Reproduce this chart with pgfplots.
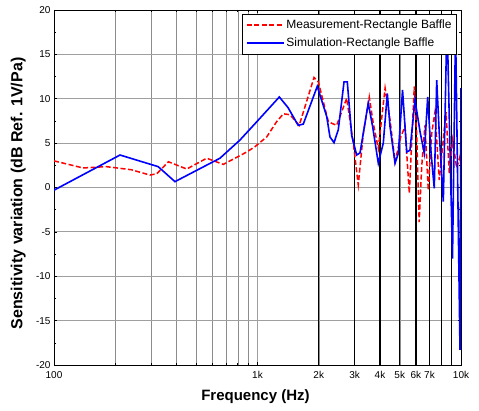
\documentclass[border=0pt]{standalone}
\usepackage{fontspec}
\setmainfont{Liberation Sans}
\usepackage{pgfplots}
\pgfplotsset{compat=1.18}

\begin{document}
\begin{tikzpicture}
\begin{axis}[
  scale only axis, width=407pt, height=355pt,
  xmode=log, xmin=100, xmax=10000, ymin=-20, ymax=20,
  xtick={100,1000,10000}, xticklabels={100,1k,10k},
  minor xtick={200,300,400,500,600,700,800,900,2000,3000,4000,5000,6000,7000,8000,9000},
  extra x ticks={2000,3000,4000,5000,6000,7000,8000,9000},
  extra x tick labels={2k,3k,4k,5k,6k,7k,{},{}},
  extra x tick style={grid=major, major grid style={black, line width=1.3pt}},
  ytick={-20,-15,...,20}, minor y tick num=1,
  tick align=inside, major tick length=3pt, minor tick length=2pt,
  xmajorgrids, xminorgrids, ymajorgrids,
  major grid style={gray!75, line width=0.8pt},
  minor grid style={gray!90, line width=0.4pt},
  axis line style={line width=0.9pt},
  tick style={black, line width=0.6pt},
  ticklabel style={font=\fontsize{10}{12}\selectfont},
  xticklabel style={yshift=-3pt},
  /pgf/number format/assume math mode=true,
  xlabel={Frequency (Hz)},
  ylabel={Sensitivity variation (dB Ref. 1V/Pa)},
  every axis x label/.style={at={(axis description cs:0.495,-0.09)}, anchor=center,
    font=\fontsize{15}{17}\selectfont\bfseries},
  every axis y label/.style={at={(axis description cs:-0.088,0.483)}, anchor=center, rotate=90,
    font=\fontsize{16}{18}\selectfont\bfseries},
  legend style={at={(0.99,0.99)}, anchor=north east, draw=black, line width=0.8pt,
    fill=white, font=\fontsize{12}{14}\selectfont, row sep=4pt,
    inner xsep=3pt, inner ysep=4pt, cells={anchor=west}},
  legend image code/.code={\draw[#1] (0cm,0cm) -- (1.3cm,0cm);},
]
\addplot[red, line width=1.5pt, dash pattern=on 5pt off 2.5pt] coordinates {
(100,3.0)(139,2.2)(181,2.35)(240,2.0)(296,1.4)(320,1.55)(365,2.9)(449,2.08)
(563,3.3)(679,2.6)(885,4.0)(972,4.6)(1110,5.7)(1240,7.4)(1340,8.3)(1445,8.2)
(1603,7.0)(1896,12.4)(1990,11.9)(2230,7.4)(2449,7.0)(2743,10.05)(2956,5.0)
(3127,0.3)(3311,6.1)(3542,10.2)(3707,7.2)(3924,4.4)(4236,11.2)(4480,7.6)
(4741,2.9)(5055,5.7)(5307,6.85)(5571,-0.65)(5895,11.4)(6053,6.1)(6230,-3.9)
(6410,2.35)(6650,7.0)(6907,-0.3)(7178,6.1)(7450,8.5)(7820,0.85)(8440,8.5)
(8760,1.6)(9100,5.35)(9520,2.2)(9886,3.5)(10000,2.5)};
\addlegendentry{Measurement-Rectangle Baffle}
\addplot[blue, line width=1.6pt] coordinates {
(100,-0.3)(211,3.66)(325,2.35)(393,0.66)(654,3.3)(820,5.35)(991,7.4)(1280,10.2)
(1413,9.0)(1585,7.0)(1679,7.15)(1967,11.4)(2188,8.0)(2270,5.7)(2377,5.05)
(2494,6.5)(2662,11.9)(2762,11.9)(2902,5.9)(3070,3.66)(3190,3.9)(3502,9.5)
(3680,6.85)(3924,2.73)(4150,5.0)(4345,10.6)(4480,6.85)(4741,2.73)(4921,3.85)
(5161,11.0)(5410,4.0)(5613,4.2)(5942,9.86)(6290,6.3)(6605,3.85)(6860,10.2)
(7120,4.0)(7390,-0.1)(7596,12.1)(7820,6.1)(8185,-1.6)(8535,19)(9083,-8.0)
(9400,18)(9886,-18.3)(10000,11.2)};
\addlegendentry{Simulation-Rectangle Baffle}
\end{axis}
\path ([xshift=-54pt,yshift=-45pt]current axis.south west) rectangle ([xshift=18pt,yshift=10pt]current axis.north east);
\end{tikzpicture}
\end{document}
